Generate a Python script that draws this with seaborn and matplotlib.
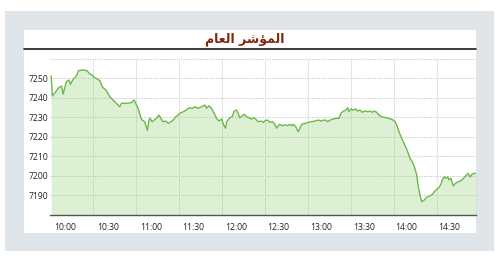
import numpy as np
import pandas as pd
import seaborn as sns
import matplotlib
matplotlib.use("Agg")
import matplotlib.pyplot as plt
from matplotlib.patches import Rectangle
from matplotlib.lines import Line2D

# ---- data (minutes after 10:00, index value) ----
minutes = [-10.1, -9.2, -7.7, -6.1, -4.5, -2.8, -1.7, 0.7, 2.5, 3.5, 5.4, 7.7, 9.2, 12.0, 15.2, 16.6,
           19.0, 20.1, 21.8, 24.2, 26.1, 28.4, 31.2, 34.7, 38.2, 39.4, 43.0, 46.5, 48.3, 50.0, 51.1,
           52.8, 53.9, 55.8, 56.5, 57.7, 58.7, 59.4, 61.0, 62.4, 64.1, 65.7, 67.1, 68.7, 70.4, 72.3,
           74.2, 75.8, 77.5, 78.9, 80.5, 82.1, 84.0, 85.9, 87.5, 89.2, 91.1, 93.4, 95.8, 98.1, 99.3,
           100.9, 102.8, 104.6, 106.3, 108.0, 109.9, 111.3, 112.7, 113.4, 115.7, 117.3, 118.7, 120.4,
           121.5, 122.7, 124.4, 125.8, 127.5, 129.1, 131.0, 132.8, 134.5, 135.6, 137.5, 139.2, 140.3,
           142.2, 143.9, 145.5, 146.9, 148.6, 149.7, 150.9, 152.5, 154.4, 156.3, 158.0, 159.1, 160.3,
           162.0, 163.8, 165.0, 166.2, 168.5, 170.8, 173.2, 175.6, 177.9, 179.8, 181.4, 183.1, 184.5,
           186.1, 188.4, 190.8, 192.5, 193.9, 195.5, 197.2, 198.6, 199.5, 200.9, 202.5, 204.2, 205.6,
           207.2, 208.9, 210.8, 212.7, 214.3, 215.9, 217.3, 219.0, 220.1, 222.5, 224.9, 227.2, 230.0,
           231.9, 233.1, 234.7, 236.1, 237.7, 239.4, 240.8, 242.4, 244.1, 245.5, 247.2, 248.3, 249.5,
           250.7, 252.5, 254.2, 255.8, 257.7, 259.6, 261.3, 262.9, 264.3, 265.2, 266.6, 267.6, 269.0,
           269.9, 271.3, 272.9, 274.6, 276.4, 278.4, 280.0, 281.7, 283.1, 284.0, 284.9, 286.3, 287.7,
           288.9]
values = [7251.3, 7241.0, 7242.4, 7244.0, 7245.5, 7246.0, 7242.0, 7248.4, 7249.2, 7247.0, 7249.6, 7251.3,
          7254.0, 7254.4, 7254.0, 7252.7, 7251.6, 7250.6, 7250.0, 7248.9, 7245.5, 7244.1, 7240.7, 7238.1,
          7235.5, 7237.3, 7237.3, 7237.6, 7239.0, 7236.4, 7234.7, 7230.4, 7228.7, 7227.8, 7226.2, 7223.4,
          7228.2, 7229.6, 7227.8, 7228.7, 7229.6, 7231.3, 7229.6, 7227.8, 7228.2, 7227.0, 7227.8, 7228.7,
          7230.4, 7231.0, 7232.2, 7232.7, 7233.3, 7234.4, 7235.0, 7234.7, 7235.5, 7234.7, 7235.5, 7236.4,
          7234.7, 7236.0, 7234.7, 7232.2, 7229.6, 7228.2, 7229.2, 7226.2, 7224.5, 7227.8, 7229.9, 7230.4,
          7233.3, 7233.8, 7232.2, 7229.9, 7231.0, 7231.6, 7230.4, 7229.9, 7229.2, 7229.9, 7228.7, 7227.8,
          7228.2, 7227.5, 7228.2, 7228.7, 7227.5, 7227.8, 7227.0, 7224.5, 7225.8, 7226.5, 7225.8, 7226.2,
          7225.8, 7226.5, 7225.8, 7226.5, 7225.3, 7222.7, 7224.5, 7226.5, 7227.0, 7227.5, 7227.8, 7228.2,
          7228.7, 7228.2, 7228.6, 7228.7, 7227.8, 7228.7, 7229.2, 7229.6, 7229.6, 7232.2, 7233.3, 7233.8,
          7235.0, 7233.0, 7234.4, 7233.8, 7234.4, 7233.3, 7233.8, 7232.7, 7233.3, 7233.0, 7233.3, 7232.7,
          7233.3, 7232.7, 7231.6, 7230.4, 7230.0, 7229.6, 7228.9, 7228.0, 7226.2, 7222.7, 7220.2, 7217.6,
          7215.0, 7212.5, 7209.1, 7207.3, 7204.8, 7200.5, 7194.5, 7190.2, 7186.8, 7187.7, 7189.1, 7189.7,
          7190.2, 7192.0, 7193.2, 7194.2, 7195.9, 7198.0, 7199.6, 7198.8, 7199.6, 7198.0, 7198.8, 7194.9,
          7196.3, 7197.1, 7197.6, 7198.8, 7200.0, 7201.4, 7200.5, 7199.6, 7201.0, 7201.4, 7201.4]

tick_labels = ["10:00", "10:30", "11:00", "11:30", "12:00", "12:30", "13:00", "13:30", "14:00", "14:30"]
tick_minutes = [0, 30, 60, 90, 120, 150, 180, 210, 240, 270]
y_ticks = [7190, 7200, 7210, 7220, 7230, 7240, 7250]
title_logical = "المؤشر العام"

# manual Arabic shaping (presentation forms, visual order) for matplotlib
title_visual = "\uFEE1\uFE8E\uFECC\uFEDF\uFE8D \uFEAE\uFEB7\uFE86\uFEE4\uFEDF\uFE8D"

df = pd.DataFrame({"minute": minutes, "value": values})

sns.set_style("white")
plt.rcParams["font.family"] = ["Open Sans", "DejaVu Sans"]

W, H = 500, 259
fig = plt.figure(figsize=(W / 100, H / 100), dpi=100)
fig.patch.set_facecolor("white")

def fx(x):
    return x / W

def fy(y):
    return 1 - y / H

# gray panel and white card
fig.patches.append(Rectangle((fx(5), fy(251)), fx(494) - fx(5), fy(11) - fy(251),
                             transform=fig.transFigure, facecolor="#dfe5e8", edgecolor="none", zorder=-3))
fig.patches.append(Rectangle((fx(24), fy(233)), fx(476) - fx(24), fy(30) - fy(233),
                             transform=fig.transFigure, facecolor="white", edgecolor="none", zorder=-2))
fig.lines.append(Line2D([fx(24), fx(476)], [fy(49), fy(49)], transform=fig.transFigure,
                        color="#1a1a1a", linewidth=1.2, zorder=1))
fig.text(fx(244.5), fy(39), title_visual, ha="center", va="center", fontsize=9,
         fontweight="bold", color="#86250d", family=["DejaVu Sans"])

ax = fig.add_axes([fx(50), fy(215), fx(476) - fx(50), fy(59) - fy(215)])
ax.set_zorder(2)
ax.set_facecolor("none")

x0 = -10.9
ax.set_xlim(x0, 288.9)
ax.set_ylim(7180, 7260)

ax.fill_between(df["minute"], df["value"], 7180, color="#8fd06f", alpha=0.3, linewidth=0, zorder=2)
sns.lineplot(data=df, x="minute", y="value", ax=ax, color="#6cb84a", linewidth=1.0, zorder=3)

# gridlines
for yv in y_ticks + [7260]:
    ax.axhline(yv, color="#c8c8c8", linewidth=0.7, linestyle=(0, (1.2, 1.2)), zorder=1)
for k in range(1, 10):
    ax.axvline(x0 + 30.3 * k, color="#e4e4e4", linewidth=0.7, zorder=1)

ax.set_xticks(tick_minutes)
ax.set_xticklabels(tick_labels)
ax.set_yticks(y_ticks)
ax.set_yticklabels([str(v) for v in y_ticks])
ax.tick_params(axis="x", length=0, pad=5.5, labelsize=6.2, colors="#222222")
ax.tick_params(axis="y", length=0, pad=1.5, labelsize=6.2, colors="#222222")
ax.set_xlabel("")
ax.set_ylabel("")
for s in ["top", "right", "left"]:
    ax.spines[s].set_visible(False)
ax.spines["bottom"].set_color("#555555")
ax.spines["bottom"].set_linewidth(1.0)
ax.spines["bottom"].set_zorder(4)

fig.savefig("out.png", dpi=100)
